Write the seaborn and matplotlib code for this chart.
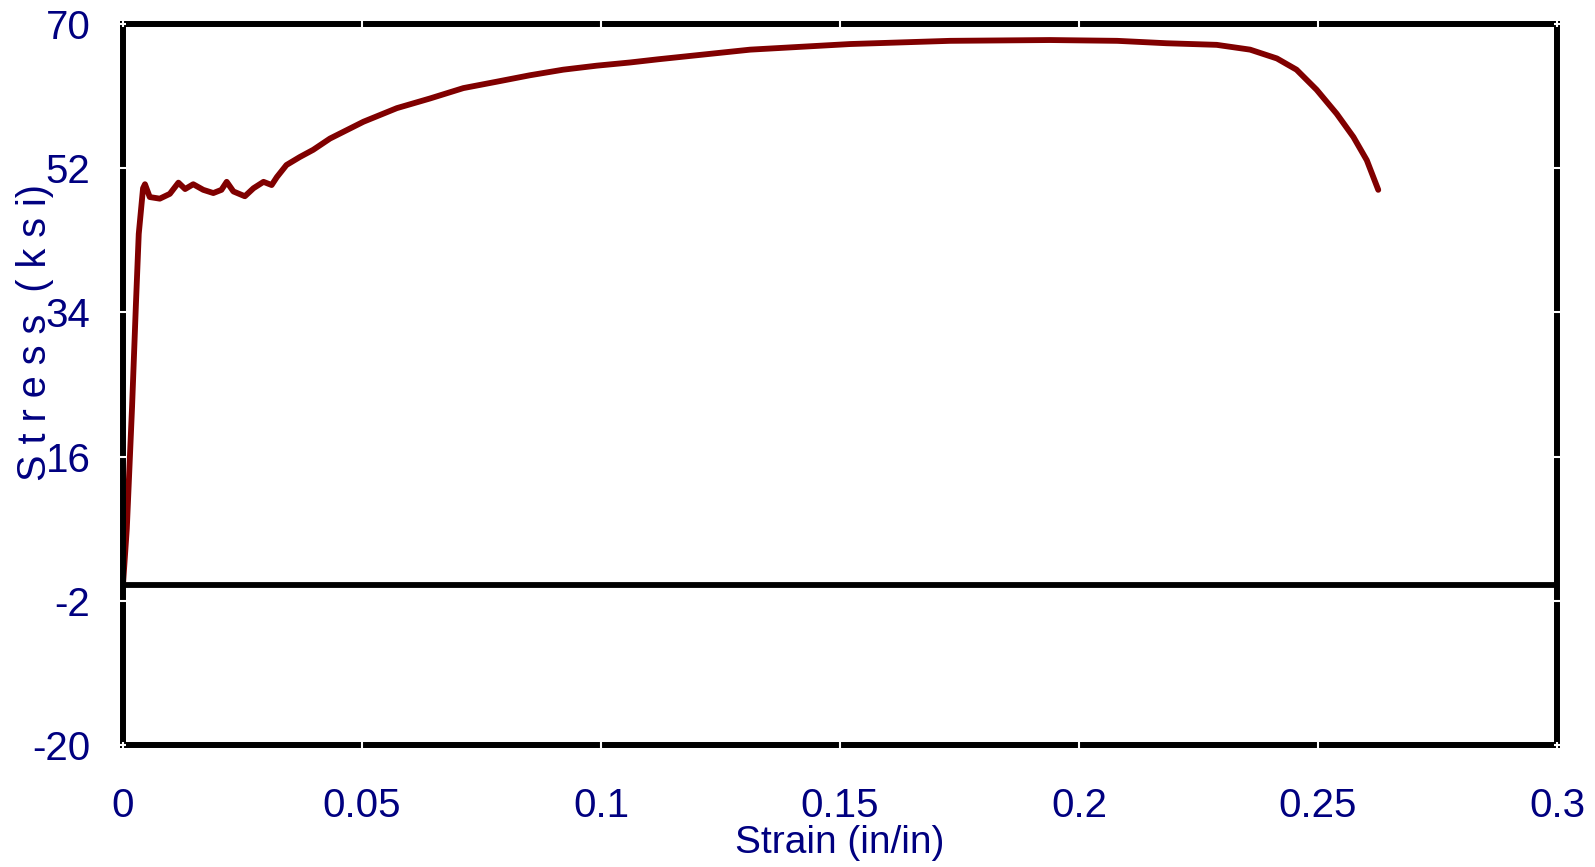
import matplotlib
matplotlib.use("Agg")
import matplotlib.pyplot as plt
import seaborn as sns
import pandas as pd

# data
strain = [0, 0.0008, 0.0019, 0.0027, 0.0033, 0.0042, 0.0046, 0.0056, 0.0077, 0.0098,
          0.0116, 0.0130, 0.0147, 0.0168, 0.0189, 0.0206, 0.0217, 0.0231, 0.0255, 0.0273,
          0.0294, 0.0311, 0.0322, 0.0342, 0.0370, 0.0398, 0.0433, 0.0503, 0.0573, 0.0642,
          0.0712, 0.0782, 0.0851, 0.0921, 0.0991, 0.1061, 0.1120, 0.1312, 0.1521, 0.1730,
          0.1939, 0.2080, 0.2183, 0.2288, 0.2358, 0.2414, 0.2455, 0.2497, 0.2539, 0.2574,
          0.2602, 0.2626]
stress = [0, 7.0, 22.2, 34.9, 43.8, 49.5, 50.0, 48.4, 48.2, 48.8,
          50.2, 49.4, 50.0, 49.3, 48.9, 49.3, 50.3, 49.1, 48.5, 49.5,
          50.3, 49.9, 50.9, 52.4, 53.4, 54.3, 55.7, 57.8, 59.5, 60.7,
          62.0, 62.8, 63.6, 64.3, 64.8, 65.2, 65.6, 66.8, 67.5, 67.9,
          68.0, 67.9, 67.6, 67.4, 66.8, 65.7, 64.3, 61.8, 58.8, 55.9,
          53.0, 49.3]

x_ticks = [0, 0.05, 0.1, 0.15, 0.2, 0.25, 0.3]
x_tick_labels = ["0", "0.05", "0.1", "0.15", "0.2", "0.25", "0.3"]
y_ticks = [-20, -2, 16, 34, 52, 70]
y_tick_labels = ["-20", "-2", "16", "34", "52", "70"]

sns.set_style("white")
plt.rcParams["font.family"] = ["Liberation Sans", "DejaVu Sans"]
navy = "#000080"

df = pd.DataFrame({"strain": strain, "stress": stress})

fig = plt.figure(figsize=(15.95, 8.67), dpi=100)
ax = fig.add_axes([0.0771, 0.1407, 0.8991, 0.8316])

ax.axhline(0, color="black", lw=4.2, zorder=1.8)
sns.lineplot(data=df, x="strain", y="stress", sort=False, estimator=None,
             color="#800000", lw=4.2, ax=ax, zorder=2.2)

ax.set_xlim(0, 0.3)
ax.set_ylim(-20, 70)
ax.set_xticks(x_ticks)
ax.set_xticklabels(x_tick_labels)
ax.set_yticks(y_ticks)
ax.set_yticklabels(y_tick_labels)

for s in ax.spines.values():
    s.set_visible(True)
    s.set_color("black")
    s.set_linewidth(4.3)

# white notches across the black frame
ax.tick_params(axis="both", which="major", bottom=True, top=True, left=True, right=True,
               direction="inout", length=5, width=1.5, color="white",
               labelsize=29, labelcolor=navy)
ax.tick_params(axis="x", pad=28)
ax.tick_params(axis="y", pad=21)
ax.xaxis.set_zorder(3)
ax.yaxis.set_zorder(3)

ax.set_xlabel("Strain (in/in)", fontsize=28, color=navy, labelpad=0)
ax.set_ylabel("")
fig.text(0.022, 0.617, "S t r e s s  ( k s i)", rotation=90, fontsize=28.5,
         color=navy, ha="center", va="center")

fig.savefig("out.png", dpi=100)
